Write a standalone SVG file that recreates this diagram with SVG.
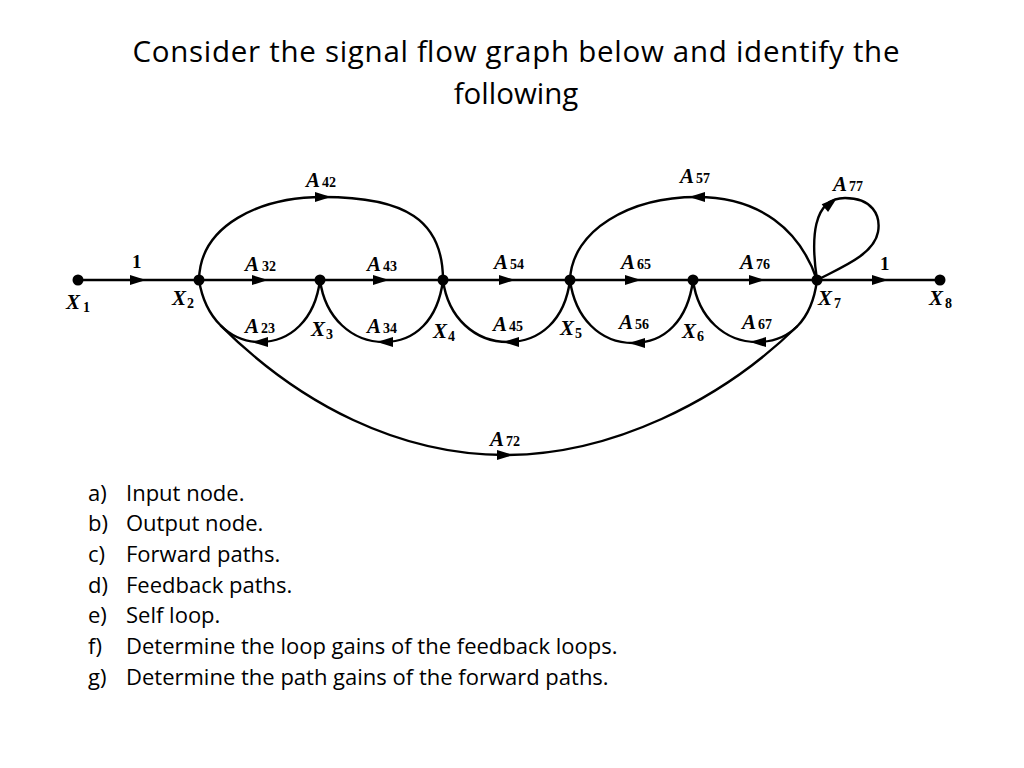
<svg xmlns="http://www.w3.org/2000/svg" xmlns:xlink="http://www.w3.org/1999/xlink" width="1024" height="768" viewBox="0 0 1024 768">
<style>
.title{font-family:"Open Sans","Liberation Sans",sans-serif;font-size:29.5px;fill:#000;text-anchor:middle}
.item{font-family:"Open Sans","Liberation Sans",sans-serif;font-size:22px;fill:#000}
.edge{fill:none;stroke:#000;stroke-width:2.4}
.lbl{font-family:"Liberation Serif","DejaVu Serif",serif;font-weight:bold;font-style:italic;font-size:21px;fill:#000}
.sub{font-style:normal;font-size:14px}
.num{font-family:"Liberation Serif","DejaVu Serif",serif;font-weight:bold;font-size:19px;fill:#000}
.dot{fill:#000}
</style>
<defs>
<path id="ah" d="M-8,-5 L8,0 L-8,5 Z" fill="#000"/>
</defs>
<rect width="1024" height="768" fill="#fff"/>
<text class="title" x="516" y="62" textLength="767" lengthAdjust="spacing">Consider the signal flow graph below and identify the</text>
<text class="title" x="516" y="104">following</text>

<g id="connectors">
<path class="edge" d="M78,280 L940,280"/>
<path class="edge" d="M199,280 C200,225 260,197 323,197 C405,197 443,220 443,280"/>
<path class="edge" d="M817,280 C800,230 760,197 697,197 C630,197 572,230 570,280"/>
<path class="edge" d="M817,280 C811,240 812,198 845,198 C872,198 881,215 878,232 C874,255 840,268 817,280"/>
<path class="edge" d="M320,280 C315,320 290,342 260,342 C230,342 205,318 199,280"/>
<path class="edge" d="M443,280 C438,320 415,342 384,342 C352,342 325,318 320,280"/>
<path class="edge" d="M570,280 C565,320 540,342 508,342 C475,342 448,318 443,280"/>
<path class="edge" d="M693,280 C688,320 665,343 633,343 C600,343 575,318 570,280"/>
<path class="edge" d="M817,280 C812,320 790,342 757,342 C725,342 698,318 693,280"/>
<path class="edge" d="M220.5,325.3 C300,405 400,455 505,455 C610,455 720,402 797.5,326"/>
<use xlink:href="#ah" transform="translate(138,280)"/>
<use xlink:href="#ah" transform="translate(260,280)"/>
<use xlink:href="#ah" transform="translate(381,280)"/>
<use xlink:href="#ah" transform="translate(507,280)"/>
<use xlink:href="#ah" transform="translate(633,280)"/>
<use xlink:href="#ah" transform="translate(757,280)"/>
<use xlink:href="#ah" transform="translate(880,280)"/>
<use xlink:href="#ah" transform="translate(323,197)"/>
<use xlink:href="#ah" transform="translate(697,197) rotate(180)"/>
<use xlink:href="#ah" transform="translate(831,203) rotate(-40)"/>
<use xlink:href="#ah" transform="translate(260,342) rotate(180)"/>
<use xlink:href="#ah" transform="translate(385,342) rotate(180)"/>
<use xlink:href="#ah" transform="translate(511,342) rotate(180)"/>
<use xlink:href="#ah" transform="translate(637,343) rotate(180)"/>
<use xlink:href="#ah" transform="translate(758,342) rotate(180)"/>
<use xlink:href="#ah" transform="translate(505,455)"/>
</g>

<g id="edge-labels">
<text class="num" x="132" y="268">1</text>
<text class="num" x="880" y="270">1</text>
<text class="lbl" x="306" y="187">A<tspan class="sub" dx="2">42</tspan></text>
<text class="lbl" x="680" y="183">A<tspan class="sub" dx="2">57</tspan></text>
<text class="lbl" x="833" y="191">A<tspan class="sub" dx="2">77</tspan></text>
<text class="lbl" x="245" y="271">A<tspan class="sub" dx="3">32</tspan></text>
<text class="lbl" x="367" y="271">A<tspan class="sub" dx="2">43</tspan></text>
<text class="lbl" x="494" y="269">A<tspan class="sub" dx="2">54</tspan></text>
<text class="lbl" x="621" y="269">A<tspan class="sub" dx="2">65</tspan></text>
<text class="lbl" x="740" y="269">A<tspan class="sub" dx="2">76</tspan></text>
<text class="lbl" x="245" y="333">A<tspan class="sub" dx="2">23</tspan></text>
<text class="lbl" x="367" y="333">A<tspan class="sub" dx="2">34</tspan></text>
<text class="lbl" x="493" y="331">A<tspan class="sub" dx="2">45</tspan></text>
<text class="lbl" x="619" y="329">A<tspan class="sub" dx="2">56</tspan></text>
<text class="lbl" x="742" y="329">A<tspan class="sub" dx="2">67</tspan></text>
<text class="lbl" x="490" y="446">A<tspan class="sub" dx="2">72</tspan></text>
</g>

<g id="X1"><circle class="dot" cx="78" cy="280" r="5.5"/><text class="lbl" x="66" y="309">X<tspan class="sub" dx="3" dy="3">1</tspan></text></g>
<g id="X2"><circle class="dot" cx="199" cy="280" r="5.5"/><text class="lbl" x="172" y="305">X<tspan class="sub" dx="1" dy="3">2</tspan></text></g>
<g id="X3"><circle class="dot" cx="320" cy="280" r="5.5"/><text class="lbl" x="311" y="336">X<tspan class="sub" dx="1" dy="3">3</tspan></text></g>
<g id="X4"><circle class="dot" cx="443" cy="280" r="5.5"/><text class="lbl" x="433" y="338">X<tspan class="sub" dx="1" dy="3">4</tspan></text></g>
<g id="X5"><circle class="dot" cx="570" cy="280" r="5.5"/><text class="lbl" x="560" y="335">X<tspan class="sub" dx="1" dy="3">5</tspan></text></g>
<g id="X6"><circle class="dot" cx="693" cy="280" r="5.5"/><text class="lbl" x="682" y="338">X<tspan class="sub" dx="1" dy="3">6</tspan></text></g>
<g id="X7"><circle class="dot" cx="817" cy="280" r="5.5"/><text class="lbl" x="818" y="305">X<tspan class="sub" dx="2" dy="3">7</tspan></text></g>
<g id="X8"><circle class="dot" cx="940" cy="280" r="5.5"/><text class="lbl" x="929" y="305">X<tspan class="sub" dx="2" dy="3">8</tspan></text></g>

<g id="questions" class="item">
<text x="88" y="501">a)</text><text x="126" y="501">Input node.</text>
<text x="88" y="531">b)</text><text x="126" y="531">Output node.</text>
<text x="88" y="562">c)</text><text x="126" y="562">Forward paths.</text>
<text x="88" y="593">d)</text><text x="126" y="593">Feedback paths.</text>
<text x="88" y="623">e)</text><text x="126" y="623">Self loop.</text>
<text x="88" y="654">f)</text><text x="126" y="654">Determine the loop gains of the feedback loops.</text>
<text x="88" y="685">g)</text><text x="126" y="685">Determine the path gains of the forward paths.</text>
</g>
</svg>
